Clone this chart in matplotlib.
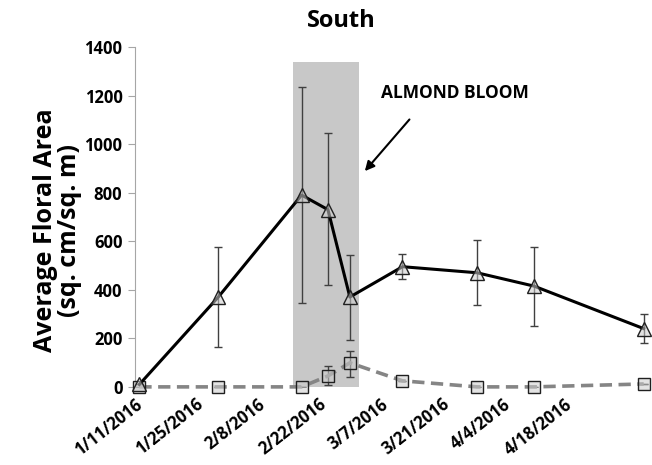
import datetime as dt
import matplotlib
matplotlib.use("Agg")
import matplotlib.pyplot as plt
import matplotlib.dates as mdates
import matplotlib.transforms as mtrans
from matplotlib.ticker import FuncFormatter

plt.rcParams['font.family'] = ['Open Sans', 'DejaVu Sans']

# sampling dates
dates = [dt.date(2016, 1, 11), dt.date(2016, 1, 29), dt.date(2016, 2, 17),
         dt.date(2016, 2, 23), dt.date(2016, 2, 28), dt.date(2016, 3, 11),
         dt.date(2016, 3, 28), dt.date(2016, 4, 10), dt.date(2016, 5, 5)]

# triangle series (solid black)
tri = [10, 370, 790, 730, 370, 495, 470, 415, 240]
tri_lo = [10, 165, 345, 420, 195, 445, 337, 252, 181]
tri_hi = [10, 575, 1235, 1045, 545, 547, 605, 576, 300]

# square series (grey dashed)
sq = [0, 0, 0, 45, 99, 25, 0, 0, 12]
sq_lo = [0, 0, 0, 8, 41, 25, 0, 0, 12]
sq_hi = [0, 0, 0, 86, 148, 25, 0, 0, 12]

bloom_start = dt.date(2016, 2, 15)
bloom_end = dt.date(2016, 3, 1)
bloom_top = 1340

tick_dates = [dt.date(2016, 1, 11) + dt.timedelta(days=14 * i) for i in range(8)]

fig = plt.figure(figsize=(6.52, 4.65), dpi=100)
ax = fig.add_axes([0.207, 0.168, 0.787, 0.731])

ax.fill_between([bloom_start, bloom_end], 0, bloom_top, color='#c8c8c8', lw=0, zorder=0)

tri_err = [[t - l for t, l in zip(tri, tri_lo)], [h - t for t, h in zip(tri, tri_hi)]]
sq_err = [[s - l for s, l in zip(sq, sq_lo)], [h - s for s, h in zip(sq, sq_hi)]]

face = (0.80, 0.80, 0.80, 0.55)

ax.errorbar(dates, sq, yerr=sq_err, fmt='none', ecolor='#404040', elinewidth=1,
            capsize=3, capthick=1, zorder=2)
ax.plot(dates, sq, color='#858585', lw=2.6, ls=(0, (3.4, 1.8)), zorder=3, clip_on=False)
ax.plot(dates, sq, ls='none', marker='s', ms=9, mfc=face, mec='#202020',
        mew=1, zorder=4, clip_on=False)

ax.errorbar(dates, tri, yerr=tri_err, fmt='none', ecolor='#404040', elinewidth=1,
            capsize=3, capthick=1, zorder=2)
ax.plot(dates, tri, color='black', lw=2.2, zorder=5, clip_on=False)
ax.plot(dates, tri, ls='none', marker='^', ms=10, mfc=face, mec='#202020',
        mew=1, zorder=6, clip_on=False)

ax.set_ylim(0, 1400)
ax.set_yticks(range(0, 1401, 200))
ax.set_xlim(dt.date(2016, 1, 10), dt.date(2016, 5, 6))
ax.set_xticks(tick_dates)
ax.xaxis.set_major_formatter(FuncFormatter(
    lambda v, p: (lambda d: f"{d.month}/{d.day}/{d.year}")(mdates.num2date(v))))

for s in ['top', 'right', 'bottom']:
    ax.spines[s].set_visible(False)
ax.spines['left'].set_color('#a6a6a6')
ax.tick_params(axis='y', direction='out', length=5, color='#a6a6a6', labelsize=12, pad=4)
ax.tick_params(axis='x', length=0, labelsize=12, pad=6)
for lab in ax.get_yticklabels():
    lab.set_fontweight('bold')
shift = mtrans.ScaledTranslation(-5 / 100, 0, fig.dpi_scale_trans)
for lab in ax.get_xticklabels():
    lab.set_fontweight('bold')
    lab.set_rotation(38)
    lab.set_ha('right')
    lab.set_rotation_mode('anchor')
    lab.set_transform(lab.get_transform() + shift)

ax.set_ylabel('Average Floral Area\n(sq. cm/sq. m)', fontsize=18, fontweight='bold',
              labelpad=2, linespacing=0.95)
ax.yaxis.label.set_y(0.46)
fig.text(0.523, 0.955, 'South', ha='center', va='center', fontsize=17, fontweight='bold')

ax.text(dt.date(2016, 3, 6), 1210, 'ALMOND BLOOM', fontsize=12.5, fontweight='bold',
        ha='left', va='center')
ax.annotate('', xy=(dt.date(2016, 3, 2), 880), xytext=(dt.date(2016, 3, 13), 1110),
            arrowprops=dict(arrowstyle='-|>', color='black', lw=1.5, mutation_scale=14))

fig.savefig('out.png', dpi=100)
